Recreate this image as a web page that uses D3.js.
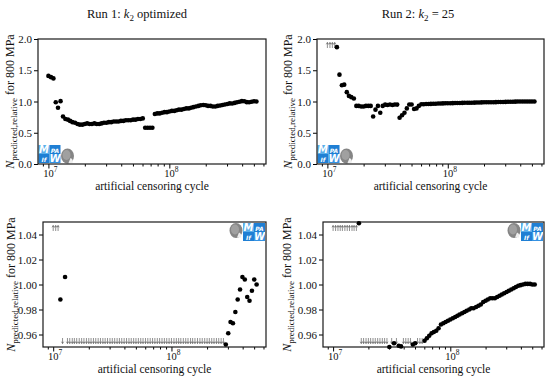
<!DOCTYPE html>
<html>
<head>
<meta charset="utf-8">
<script src="https://cdn.jsdelivr.net/npm/d3@7"></script>
<style>
  body { margin: 0; background: #fff; }
  svg { display: block; font-family: "Liberation Serif", "DejaVu Serif", serif; }
</style>
</head>
<body>
<svg id="chart" width="550" height="376"></svg>
<script>
// artificial censoring cycle, in millions of cycles
const cycles = [
  10, 10.5, 11, 11.5, 12, 12.6, 13.2, 13.8, 14.5, 15.1,
  15.8, 16.6, 17.4, 18.2, 19.1, 20, 20.9, 21.9, 22.9, 24,
  25.1, 26.3, 27.5, 28.8, 30.2, 31.6, 33.1, 34.7, 36.3, 38,
  39.8, 41.7, 43.7, 45.7, 47.9, 50.1, 52.5, 55, 57.5, 60.3,
  63.1, 66.1, 69.2, 72.4, 75.9, 79.4, 83.2, 87.1, 91.2, 95.5,
  100, 105, 110, 115, 120, 126, 132, 138, 145, 151,
  158, 166, 174, 182, 191, 200, 209, 219, 229, 240,
  251, 263, 275, 288, 302, 316, 331, 347, 363, 380,
  398, 417, 437, 457, 479, 501, 525
];

// N predicted relative, run 1 (k2 optimized)
const run1Values = [
  1.41, 1.39, 1.37, 0.988, 0.90, 1.006, 0.76, 0.72, 0.71, 0.69,
  0.67, 0.66, 0.64, 0.63, 0.63, 0.64, 0.65, 0.64, 0.64, 0.65,
  0.64, 0.64, 0.65, 0.66, 0.66, 0.67, 0.67, 0.68, 0.68, 0.68,
  0.69, 0.69, 0.70, 0.70, 0.70, 0.71, 0.71, 0.72, 0.72, 0.73,
  0.58, 0.58, 0.58, 0.58, 0.80, 0.81, 0.81, 0.82, 0.83, 0.83,
  0.84, 0.85, 0.85, 0.86, 0.87, 0.87, 0.88, 0.89, 0.89, 0.90,
  0.91, 0.92, 0.93, 0.94, 0.945, 0.94, 0.93, 0.93, 0.92, 0.92,
  0.93, 0.935, 0.945, 0.952, 0.961, 0.970, 0.969, 0.978, 0.988, 0.996,
  1.006, 1.004, 0.990, 0.987, 0.995, 1.004, 1.000
];

// N predicted relative, run 2 (k2 = 25)
const run2Values = [
  2.3, 2.3, 2.2, 2.1, 1.87, 1.43, 1.26, 1.27, 1.15, 1.09,
  1.07, 1.049, 0.93, 0.93, 0.92, 0.92, 0.93, 0.93, 0.93, 0.76,
  0.87, 0.93, 0.82, 0.93, 0.950, 0.945, 0.953, 0.945, 0.951, 0.9505,
  0.74, 0.78, 0.82, 0.89, 0.952, 0.953, 0.88, 0.89, 0.93, 0.955,
  0.957, 0.959, 0.961, 0.962, 0.963, 0.965, 0.968, 0.969, 0.970, 0.971,
  0.972, 0.973, 0.974, 0.975, 0.976, 0.977, 0.978, 0.979, 0.980, 0.981,
  0.981, 0.982, 0.983, 0.984, 0.986, 0.987, 0.988, 0.989, 0.989, 0.989,
  0.990, 0.991, 0.992, 0.993, 0.994, 0.995, 0.996, 0.997, 0.998, 0.999,
  0.9995, 1.000, 1.0005, 1.0005, 1.0005, 1.000, 1.000
];

const runLabels = ["Run 1:", "Run 2:"];
const runSettings = ["optimized", "= 25"];
const overviewTicks = [0, 0.5, 1.0, 1.5, 2.0];
const zoomTicks = [0.96, 0.98, 1.00, 1.02, 1.04];
const decadeTicks = [1e7, 1e8];
const minorTicks = [9e6, 2e7, 3e7, 4e7, 5e7, 6e7, 7e7, 8e7, 9e7, 2e8, 3e8, 4e8, 5e8, 6e8];

const svg = d3.select("#chart");
svg.append("rect").attr("width", 550).attr("height", 376).attr("fill", "#fff");

const panels = [
  { values: run1Values, left: 38, right: 266, top: 39, bottom: 164, yDomain: [0, 2], ticks: overviewTicks,
    fmt: d3.format(".1f"), logo: "bottom-left", run: 0, titleX: 137, labelX: 14 },
  { values: run2Values, left: 317, right: 544, top: 39, bottom: 164, yDomain: [0, 2], ticks: overviewTicks,
    fmt: d3.format(".1f"), logo: "bottom-left", run: 1, titleX: 418, labelX: 292 },
  { values: run1Values, left: 43, right: 266, top: 222, bottom: 347, yDomain: [0.95, 1.05], ticks: zoomTicks,
    fmt: d3.format(".2f"), logo: "top-right", run: null, labelX: 15 },
  { values: run2Values, left: 323, right: 544, top: 222, bottom: 347, yDomain: [0.95, 1.05], ticks: zoomTicks,
    fmt: d3.format(".2f"), logo: "top-right", run: null, labelX: 291 }
];

function drawBlueBlock(g, bx, by) {
  const quads = [
    [0, 0, "#5aaeea", "M", 10],
    [11, 0, "#1f7fd4", "PA", 6],
    [0, 9, "#1f7fd4", "If", 6],
    [11, 9, "#3592e2", "W", 10]
  ];
  quads.forEach(([dx, dy, fill, txt, fs]) => {
    g.append("rect").attr("x", bx + dx).attr("y", by + dy).attr("width", 11).attr("height", 9).attr("fill", fill);
    g.append("text").attr("x", bx + dx + 5.5).attr("y", by + dy + 7.5)
      .attr("text-anchor", "middle").attr("font-size", fs).attr("font-style", "italic")
      .attr("font-family", "DejaVu Sans").attr("font-weight", "bold").attr("fill", "#fff").text(txt);
  });
}

function drawHead(g, cx, cy) {
  g.append("ellipse").attr("cx", cx).attr("cy", cy).attr("rx", 6.5).attr("ry", 7.5).attr("fill", "#858585");
  g.append("ellipse").attr("cx", cx - 1).attr("cy", cy - 1).attr("rx", 4).attr("ry", 5).attr("fill", "#a0a0a0");
  g.append("path").attr("d", `M${cx + 3},${cy + 2} q3,1 2,5 l-4,0 z`).attr("fill", "#eee");
}

panels.forEach((p) => {
  const g = svg.append("g");
  const x = d3.scaleLog().domain([8.2e6, 6.3e8]).range([p.left, p.right]);
  const y = d3.scaleLinear().domain(p.yDomain).range([p.bottom, p.top]);
  const [lo, hi] = p.yDomain;

  // logo
  if (p.logo === "bottom-left") {
    drawBlueBlock(g, p.left + 0.5, p.bottom - 19);
    drawHead(g, p.left + 29.5, p.bottom - 8);
  } else {
    drawBlueBlock(g, p.right - 23, p.top + 1);
    drawHead(g, p.right - 30, p.top + 8.5);
  }

  // left axis
  const yAxis = g.append("g").attr("transform", `translate(${p.left},0)`)
    .call(d3.axisLeft(y).tickValues(p.ticks).tickFormat(p.fmt).tickSize(4).tickPadding(2));
  yAxis.select(".domain").remove();
  yAxis.selectAll("text").attr("font-size", 11).attr("font-family", "Liberation Serif").attr("fill", "#111");

  // bottom axis: minor then major ticks
  const minor = g.append("g").attr("transform", `translate(0,${p.bottom})`)
    .call(d3.axisBottom(x).tickValues(minorTicks).tickFormat("").tickSize(2.5));
  minor.select(".domain").remove();
  const major = g.append("g").attr("transform", `translate(0,${p.bottom})`)
    .call(d3.axisBottom(x).tickValues(decadeTicks).tickFormat("").tickSize(4.5));
  major.select(".domain").remove();
  decadeTicks.forEach((t) => {
    const txt = g.append("text").attr("x", x(t) + 2).attr("y", p.bottom + 12.5)
      .attr("text-anchor", "middle").attr("font-size", 10.5).attr("fill", "#111");
    txt.append("tspan").text("10");
    txt.append("tspan").attr("dy", -4.5).attr("font-size", 7.5).text(Math.round(Math.log10(t)));
  });

  // frame
  g.append("rect").attr("x", p.left).attr("y", p.top)
    .attr("width", p.right - p.left).attr("height", p.bottom - p.top)
    .attr("fill", "none").attr("stroke", "#1a1a1a").attr("stroke-width", 1.2);

  const pts = cycles.map((c, i) => ({ n: c * 1e6, v: p.values[i] }));

  // censored markers (values outside the shown range)
  g.append("g").selectAll("path")
    .data(pts.filter((d) => d.v > hi || d.v < lo))
    .join("path")
    .attr("d", (d) => {
      const cx = x(d.n);
      if (d.v > hi) {
        const tip = p.top + 3.5;
        return `M${cx},${tip + 5.5}L${cx},${tip}M${cx - 1.1},${tip + 1.8}L${cx},${tip}L${cx + 1.1},${tip + 1.8}`;
      }
      const tip = p.bottom - 3.5;
      return `M${cx},${tip - 5.5}L${cx},${tip}M${cx - 1.1},${tip - 1.8}L${cx},${tip}L${cx + 1.1},${tip - 1.8}`;
    })
    .attr("fill", "none").attr("stroke", "#444").attr("stroke-width", 0.6);

  // points
  g.append("g").selectAll("circle")
    .data(pts.filter((d) => d.v >= lo && d.v <= hi))
    .join("circle")
    .attr("cx", (d) => x(d.n))
    .attr("cy", (d) => y(d.v))
    .attr("r", 2.3)
    .attr("fill", "#000");

  // x label
  g.append("text").attr("x", (p.left + p.right) / 2).attr("y", p.bottom + 25.5)
    .attr("text-anchor", "middle").attr("font-size", 11.5).attr("fill", "#111")
    .text("artificial censoring cycle");

  // y label
  const yl = g.append("text")
    .attr("transform", `translate(${p.labelX},${(p.top + p.bottom) / 2}) rotate(-90)`)
    .attr("text-anchor", "middle").attr("font-size", 12).attr("fill", "#111");
  yl.append("tspan").attr("font-style", "italic").text("N");
  yl.append("tspan").attr("dy", 3).attr("font-size", 9).text("predicted,relative");
  yl.append("tspan").attr("dy", -3).text(" for 800 MPa");

  // title
  if (p.run !== null) {
    const t = g.append("text").attr("x", p.titleX).attr("y", 18)
      .attr("text-anchor", "middle").attr("font-size", 12.5).attr("fill", "#111");
    t.append("tspan").text(runLabels[p.run] + " ");
    t.append("tspan").attr("font-style", "italic").text("k");
    t.append("tspan").attr("dy", 3).attr("font-size", 9).text("2");
    t.append("tspan").attr("dy", -3).text(" " + runSettings[p.run]);
  }
});
</script>
</body>
</html>
